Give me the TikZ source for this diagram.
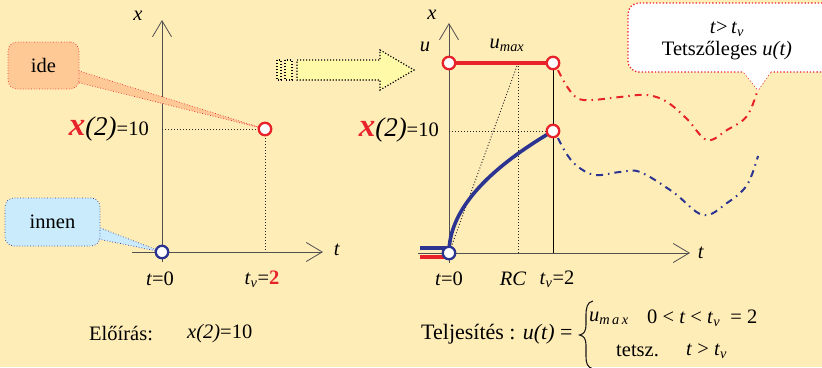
\documentclass[tikz,border=0pt]{standalone}
\usepackage{fontspec}
\setmainfont{Liberation Serif}
\usetikzlibrary{arrows.meta}
\definecolor{bg}{HTML}{FFEDB8}
\definecolor{myred}{HTML}{E8222B}
\definecolor{myblue}{HTML}{2B3490}
\definecolor{orfill}{HTML}{FFC996}
\definecolor{blfill}{HTML}{C9EBFC}
\definecolor{arfill}{HTML}{FFFAA8}
\definecolor{axisc}{HTML}{505050}
\newcommand{\xtwoten}{{\fontsize{33}{33}\selectfont\bfseries\itshape\color{myred}x}{\fontsize{27}{27}\selectfont\itshape(2)}=10}
\newcommand{\tvsub}{\textit{t}\textsubscript{\textit{v}}}
\tikzset{
  every node/.style={inner sep=0pt, font=\fontsize{20.5}{22}\selectfont},
  axisline/.style={draw=axisc, line width=0.8pt, -{Straight Barb[length=16pt,width=19pt,line width=0.8pt]}},
  dotline/.style={draw=black!85, line width=0.9pt, dash pattern=on 1pt off 2pt},
  rcirc/.style={circle, draw=myred, fill=white, line width=2.3pt, minimum size=12.5pt},
  bcirc/.style={circle, draw=myblue, fill=white, line width=2.3pt, minimum size=12.5pt},
  ddash/.style={line width=2pt, dash pattern=on 7pt off 5pt on 1.5pt off 5pt},
  idebox/.style={draw=myred, fill=orfill, dotted, line width=0.7pt, rounded corners=9pt, minimum width=71pt, minimum height=47pt},
  innenbox/.style={draw=myblue, fill=blfill, dotted, line width=0.7pt, rounded corners=9pt, minimum width=95pt, minimum height=48pt},
  tbox/.style={draw=myred, fill=white, line width=1.3pt, dash pattern=on 1.3pt off 2pt, rounded corners=11pt, minimum width=212pt, minimum height=69pt},
  bigarrow/.style={draw=black, fill=arfill, line width=1.2pt, dash pattern=on 1.2pt off 1.8pt}
}
\begin{document}
\begin{tikzpicture}[x=1pt,y=-1pt]
\useasboundingbox (0,0) rectangle (822,367);
\fill[bg] (0,0) rectangle (822,367);

% ---------------- left plot ----------------
\coordinate (Lbot) at (162,262);
\coordinate (Ltop) at (162,20);
\coordinate (Lleft) at (132,252);
\coordinate (Lright) at (323,252);
\coordinate (LO) at (162,252);
\coordinate (LP) at (265,129);
\coordinate (Ly10) at (162,129);
\coordinate (Ltv) at (265,252);
\draw[axisline] (Lbot) -- (Ltop);
\draw[axisline] (Lleft) -- (Lright);
\draw[dotline] (Ly10) -- (LP);
\draw[dotline] (LP) -- (Ltv);

% callout ide
\coordinate (ideA) at (76,70);
\coordinate (ideB) at (76,82);
\draw[draw=myred, fill=orfill, dotted, line width=0.7pt] (ideA) -- (LP) -- (ideB) -- cycle;
\node[idebox] (ide) at (43.5,65.5) {ide};

% callout innen
\coordinate (inA) at (98,227);
\coordinate (inB) at (98,239);
\draw[draw=myblue, fill=blfill, dotted, line width=0.7pt] (inA) -- (LO) -- (inB) -- cycle;
\node[innenbox] (innen) at (52.5,222) {innen};

\node[rcirc] (LPc) at (LP) {};
\node[bcirc] (LOc) at (LO) {};

\node (xlabL) at (138,16) {\textit{x}};
\node (tlabL) at (337,250) {\textit{t}};
\node[anchor=east] (x10L) at (149,129) {\xtwoten};
\node (t0L) at (160,279) {\textit{t}=0};
\node (tvL) at (262,279) {\tvsub=\textbf{\color{myred}2}};

\node[anchor=west] (eloiras) at (89,334) {Előírás:};
\node[anchor=west] (presc) at (187,334) {\textit{x(2)}=10};

% ---------------- big striped arrow ----------------
\draw[bigarrow] (297,60) -- (380,60) -- (380,50) -- (414,70) -- (380,90) -- (380,80) -- (297,80) -- cycle;
\draw[bigarrow] (277,60) rectangle (281,80);
\draw[bigarrow] (285,60) rectangle (292,80);

% ---------------- right plot ----------------
\coordinate (Rbot) at (449,263);
\coordinate (Rtop) at (449,23);
\coordinate (Rleft) at (418,253);
\coordinate (Rright) at (690,253);
\coordinate (RO) at (449,253);
\coordinate (U0) at (449,63);
\coordinate (U1) at (553,63);
\coordinate (X1) at (553,131);
\coordinate (Ry10) at (449,131);
\coordinate (RCtop) at (518,63);
\coordinate (RCbot) at (518,253);
\coordinate (TVbot) at (553,253);
\coordinate (bL) at (420,248);
\coordinate (bR) at (449,248);
\coordinate (rL) at (420,257);
\coordinate (rR) at (447,257);

\draw[axisline] (Rbot) -- (Rtop);
\draw[axisline] (Rleft) -- (Rright);
\draw[dotline] (Ry10) -- (X1);
\draw[dotline] (RCtop) -- (RCbot);
\draw[dotline] (RO) -- (RCtop);
\draw[draw=black, line width=0.8pt] (U1) -- (TVbot);

\draw[myblue, line width=3.6pt] (bL) -- (bR);
\draw[myred, line width=3.6pt] (rL) -- (rR);
\draw[myblue, line width=3.6pt, line cap=round] plot[domain=0:1, samples=50] ({449+104*\x*\x},{253-122*\x});
\draw[myred, line width=3.6pt] (U0) -- (U1);

\draw[myred, ddash] plot[smooth, tension=0.6] coordinates {(558,70) (566,85) (577,98) (592,100) (620,97) (647,95) (667,102) (687,119) (707,140) (727,130) (747,116) (758,89)};
\draw[myblue, ddash] plot[smooth, tension=0.6] coordinates {(558,138) (566,153) (577,166) (595,175) (620,172) (640,172) (673,192) (703,215) (727,203) (747,185) (758,156)};

\node[rcirc] (U0c) at (U0) {};
\node[rcirc] (U1c) at (U1) {};
\node[rcirc] (X1c) at (X1) {};
\node[bcirc] (ROc) at (RO) {};

\node (xlabR) at (432,15) {\textit{x}};
\node (ulab) at (425,47) {\textit{u}};
\node (umax) at (507,45) {\textit{u}\textsubscript{\textit{max}}};
\node (tlabR) at (701,253) {\textit{t}};
\node[anchor=east] (x10R) at (439,130) {\xtwoten};
\node (t0R) at (449,279) {\textit{t}=0};
\node (RClab) at (513,279) {\textit{RC}};
\node (tvR) at (557,279) {\tvsub=2};

% callout right
\coordinate (tpA) at (742,70);
\coordinate (tpT) at (758,90);
\coordinate (tpB) at (772,70);
\draw[draw=myred, fill=white, line width=1.3pt, dash pattern=on 1.3pt off 2pt] (tpA) -- (tpT) -- (tpB);
\node[tbox] (tcall) at (734,37.5) {};
\fill[white] (tpA) -- (tpT) -- (tpB) -- cycle;
\node[align=center] (ttext) at (727,41) {\textit{t}>\,\tvsub\\Tetszőleges \textit{u(t)}};

% bottom right formula
\node[anchor=west, font=\fontsize{22}{24}\selectfont] (telj) at (421,334) {Teljesítés : \textit{u(t)} =};
\draw[black!90, line width=1.1pt] (593,301) .. controls (587,302) and (586,308) .. (586,316) -- (586,325) .. controls (586,331) and (584,334) .. (579.5,335) .. controls (584,336) and (586,339) .. (586,345) -- (586,356) .. controls (586,363) and (587,367) .. (593,369);
\node[anchor=west] (c1a) at (589,318) {\textit{u}\textsubscript{\textit{m\,a\,x}}};
\node[anchor=west] (c1b) at (647,318) {0 < \textit{t} < \tvsub\ \ = 2};
\node[anchor=west] (c2a) at (616,351) {tetsz.};
\node[anchor=west] (c2b) at (686,351) {\textit{t} > \tvsub};
\end{tikzpicture}
\end{document}
